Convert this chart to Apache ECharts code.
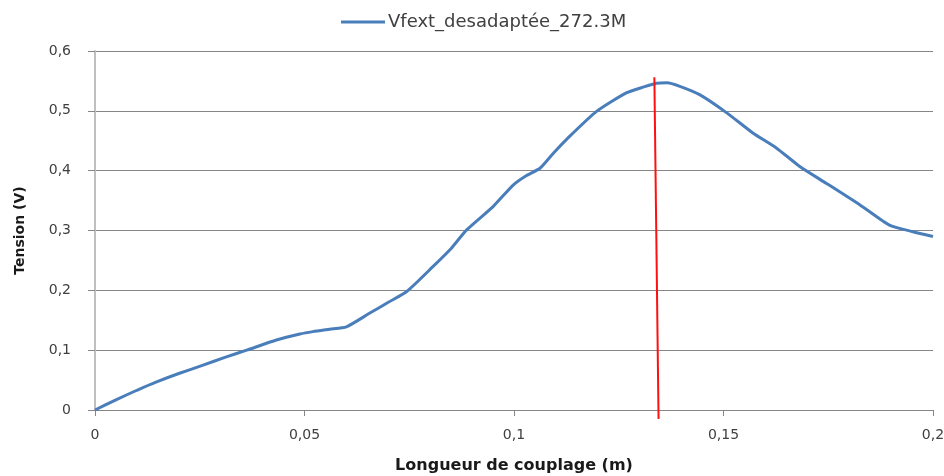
<!DOCTYPE html>
<html>
<head>
<meta charset="utf-8">
<script src="https://cdn.jsdelivr.net/npm/echarts@6/dist/echarts.min.js"></script>
<style>html,body{margin:0;padding:0;background:#fff}#c{width:944px;height:476px}</style>
</head>
<body>
<div id="c"></div>
<script>
const seriesName = 'Vfext_desadaptée_272.3M';
const xValues = [0, 0.005, 0.010, 0.0147, 0.020, 0.0258, 0.031, 0.0362, 0.0433, 0.0489, 0.052, 0.056, 0.060, 0.0656, 0.070, 0.0744, 0.0807, 0.085, 0.0887, 0.095, 0.0998, 0.103, 0.1062, 0.1095, 0.1125, 0.1197, 0.1268, 0.131, 0.134, 0.1365, 0.1396, 0.1443, 0.1507, 0.157, 0.1626, 0.1682, 0.1745, 0.1825, 0.1896, 0.1952, 0.2];
const yValues = [0.000, 0.017, 0.033, 0.047, 0.061, 0.075, 0.088, 0.100, 0.117, 0.127, 0.131, 0.135, 0.139, 0.162, 0.180, 0.198, 0.240, 0.270, 0.301, 0.340, 0.376, 0.392, 0.404, 0.430, 0.452, 0.499, 0.530, 0.540, 0.546, 0.547, 0.541, 0.527, 0.497, 0.463, 0.438, 0.407, 0.379, 0.343, 0.309, 0.298, 0.290];
const markerX = [0.1335, 0.1345];
const markerY = [0.556, -0.015];
const xTicks = [0, 0.05, 0.1, 0.15, 0.2];
const yTicks = [0, 0.1, 0.2, 0.3, 0.4, 0.5, 0.6];

const fmt = v => String(+v.toFixed(4)).replace('.', ',');
const font = 'DejaVu Sans';
const chart = echarts.init(document.getElementById('c'), null, {renderer: 'canvas'});
chart.setOption({
  animation: false,
  backgroundColor: '#fff',
  textStyle: {fontFamily: font},
  legend: {
    top: 8, left: 336,
    data: [seriesName],
    itemWidth: 44, itemHeight: 10, itemGap: 4,
    icon: 'path://M0,3.5 L44,3.5 L44,6.5 L0,6.5 Z',
    textStyle: {fontFamily: font, fontSize: 18, color: '#404040', padding: [0, 0, 0, -2]}
  },
  grid: {left: 95, right: 11, top: 51, bottom: 66, containLabel: false, outerBoundsMode: 'none'},
  xAxis: {
    type: 'value', min: 0, max: 0.2, interval: 0.05,
    name: 'Longueur de couplage (m)', nameLocation: 'middle', nameGap: 48,
    nameTextStyle: {fontFamily: font, fontSize: 16, fontWeight: 'bold', color: '#1a1a1a'},
    axisLine: {show: true, lineStyle: {color: '#868686', width: 1}},
    axisTick: {show: true, length: 6, inside: false, lineStyle: {color: '#868686'}},
    axisLabel: {margin: 18, fontSize: 14, color: '#404040', formatter: fmt},
    splitLine: {show: false}
  },
  yAxis: {
    type: 'value', min: 0, max: 0.6, interval: 0.1,
    name: 'Tension (V)', nameLocation: 'middle', nameGap: 68, nameRotate: 90,
    nameTextStyle: {fontFamily: font, fontSize: 14, fontWeight: 'bold', color: '#1a1a1a'},
    axisLine: {show: true, lineStyle: {color: '#bfbfbf', width: 2}},
    axisTick: {show: true, length: 7, inside: false, lineStyle: {color: '#868686'}},
    axisLabel: {margin: 24, fontSize: 14, color: '#404040', formatter: fmt},
    splitLine: {show: true, lineStyle: {color: '#868686', width: 1}}
  },
  series: [
    {
      name: seriesName, type: 'line',
      data: xValues.map((x, i) => [x, yValues[i]]),
      showSymbol: false, smooth: 0.2,
      lineStyle: {color: '#4a7ebb', width: 3},
      itemStyle: {color: '#4a7ebb'}
    },
    {
      name: 'marker', type: 'line', clip: false, silent: true,
      data: markerX.map((x, i) => [x, markerY[i]]),
      showSymbol: false,
      lineStyle: {color: '#ff1010', width: 2},
      z: 5
    }
  ]
});
</script>
</body>
</html>
